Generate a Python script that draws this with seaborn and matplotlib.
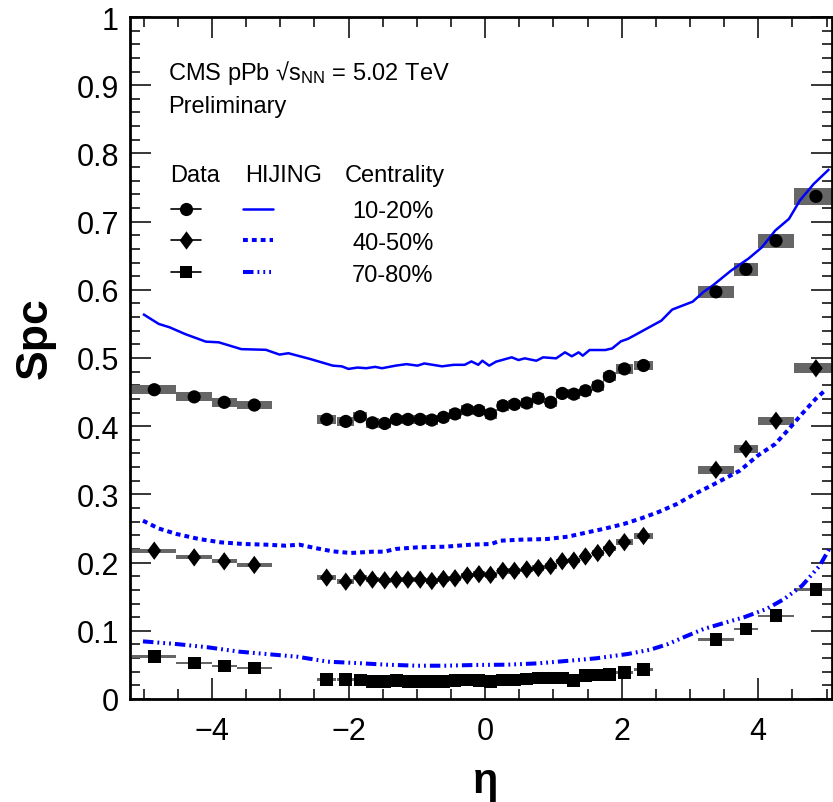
import numpy as np
import pandas as pd
import matplotlib
matplotlib.use("Agg")
import matplotlib.pyplot as plt
import seaborn as sns
from matplotlib.lines import Line2D
from matplotlib.legend_handler import HandlerTuple
from matplotlib.path import Path
from matplotlib.markers import MarkerStyle
from matplotlib.ticker import MultipleLocator, FuncFormatter

# ---------------- data ----------------
# HF (|eta| > 3) bin edges (forward); backward bins are mirrored
hf_edges = [3.12, 3.64, 4.00, 4.52, 5.17]

mid_eta = [-2.32, -2.04, -1.83, -1.65, -1.47, -1.30, -1.13, -0.95, -0.78, -0.61, -0.44, -0.26, -0.09,
           0.08, 0.26, 0.43, 0.61, 0.78, 0.96, 1.13, 1.30, 1.47, 1.65, 1.82, 2.04, 2.32]

# 10-20%
c1_bwd = [0.4535, 0.443, 0.435, 0.431]          # eta = -4.845, -4.26, -3.82, -3.38
c1_mid = [0.410, 0.407, 0.414, 0.405, 0.404, 0.410, 0.410, 0.410, 0.409, 0.413, 0.418, 0.424, 0.423,
          0.418, 0.430, 0.432, 0.434, 0.441, 0.435, 0.448, 0.447, 0.452, 0.459, 0.473, 0.484, 0.489]
c1_fwd = [0.597, 0.630, 0.672, 0.737]
c1_sys_bwd = [0.0065, 0.0065, 0.0065, 0.0065]
c1_sys_mid = 0.007
c1_sys_fwd = [0.0085, 0.010, 0.010, 0.012]

# 40-50%
c4_bwd = [0.2175, 0.2077, 0.2019, 0.1965]
c4_mid = [0.178, 0.172, 0.178, 0.175, 0.174, 0.175, 0.175, 0.175, 0.173, 0.176, 0.177, 0.181, 0.183,
          0.182, 0.188, 0.188, 0.190, 0.192, 0.195, 0.202, 0.203, 0.209, 0.214, 0.221, 0.230, 0.239]
c4_fwd = [0.336, 0.3666, 0.408, 0.485]
c4_sys_bwd = [0.003, 0.003, 0.003, 0.003]
c4_sys_mid = 0.004
c4_sys_fwd = [0.0055, 0.0055, 0.006, 0.0075]

# 70-80%
c7_bwd = [0.062, 0.0528, 0.0485, 0.0455]
c7_mid = [0.0283, 0.0283, 0.028, 0.026, 0.0254, 0.0269, 0.0254, 0.0254, 0.0254, 0.026, 0.0269, 0.0279, 0.0269,
          0.026, 0.0279, 0.0279, 0.0293, 0.0308, 0.0308, 0.0308, 0.0269, 0.0342, 0.0352, 0.0362, 0.039, 0.043]
c7_fwd = [0.087, 0.1026, 0.122, 0.161]
c7_sys_bwd = [0.0018, 0.0018, 0.0018, 0.0018]
c7_sys_mid = 0.0018
c7_sys_fwd = [0.0018, 0.0018, 0.0018, 0.002]

# HIJING curves
h1_eta = [-5.01, -4.78, -4.62, -4.39, -4.09, -3.90, -3.57, -3.21, -3.01, -2.88, -2.56, -2.23, -2.10, -2.00,
          -1.87, -1.74, -1.61, -1.51, -1.31, -1.15, -0.99, -0.89, -0.63, -0.46, -0.30, -0.20, -0.10, -0.04,
          0.06, 0.16, 0.39, 0.49, 0.58, 0.75, 0.85, 1.04, 1.17, 1.27, 1.37, 1.43, 1.53, 1.76, 1.86, 1.99,
          2.09, 2.22, 2.42, 2.58, 2.74, 3.04, 3.20, 3.33, 3.60, 3.86, 4.05, 4.25, 4.45, 4.61, 4.81, 5.04]
h1_val = [0.5645, 0.550, 0.545, 0.535, 0.524, 0.523, 0.513, 0.512, 0.505, 0.507, 0.4985, 0.4888, 0.4878, 0.484,
          0.486, 0.485, 0.487, 0.485, 0.4888, 0.491, 0.4888, 0.492, 0.4878, 0.490, 0.490, 0.495, 0.490, 0.496,
          0.4888, 0.4946, 0.501, 0.497, 0.4995, 0.496, 0.501, 0.4995, 0.5083, 0.5025, 0.5083, 0.5034, 0.5117,
          0.5117, 0.514, 0.5245, 0.528, 0.535, 0.546, 0.5547, 0.571, 0.5826, 0.597, 0.606, 0.628, 0.646,
          0.662, 0.687, 0.704, 0.731, 0.755, 0.777]

h4_eta = [-5.01, -4.78, -4.52, -4.19, -3.87, -3.54, -3.21, -2.92, -2.72, -2.49, -2.23, -1.97, -1.64, -1.48,
          -1.31, -0.99, -0.59, -0.20, 0.09, 0.22, 0.52, 0.91, 1.21, 1.50, 1.76, 2.03, 2.29, 2.55, 2.81, 3.07,
          3.33, 3.73, 3.99, 4.25, 4.45, 4.64, 4.84, 5.00]
h4_val = [0.2615, 0.250, 0.242, 0.2346, 0.2297, 0.2273, 0.2263, 0.2248, 0.2263, 0.2214, 0.2165, 0.2141,
          0.216, 0.216, 0.220, 0.2224, 0.2233, 0.2263, 0.2273, 0.2321, 0.2336, 0.2346, 0.238, 0.2444, 0.250,
          0.2566, 0.265, 0.2746, 0.286, 0.3006, 0.3138, 0.3348, 0.3567, 0.374, 0.396, 0.418, 0.440, 0.4545]

h7_eta = [-5.01, -4.52, -4.06, -3.60, -3.21, -2.75, -2.30, -1.90, -1.44, -0.99, -0.59, -0.14, 0.32, 0.78,
          1.24, 1.63, 2.09, 2.42, 2.68, 2.94, 3.20, 3.53, 3.79, 4.12, 4.38, 4.64, 4.90, 5.04]
h7_val = [0.0845, 0.0806, 0.0758, 0.0694, 0.066, 0.062, 0.0547, 0.0528, 0.0503, 0.0488, 0.0488, 0.0499,
          0.0503, 0.0523, 0.0562, 0.0597, 0.066, 0.0723, 0.0806, 0.0919, 0.1026, 0.1124, 0.1198, 0.132,
          0.1466, 0.166, 0.1955, 0.220]

centralities = ["10-20%", "40-50%", "70-80%"]
cms_label = "CMS pPb √s$_{\\mathregular{NN}}$ = 5.02 TeV"
prelim_label = "Preliminary"

# ---------------- style ----------------
sns.set_theme(style="ticks")
plt.rcParams["font.family"] = ["Liberation Sans", "DejaVu Sans"]
plt.rcParams["mathtext.fontset"] = "custom"
plt.rcParams["mathtext.rm"] = "Liberation Sans"
plt.rcParams["mathtext.it"] = "Liberation Sans:italic"
plt.rcParams["mathtext.bf"] = "Liberation Sans:bold"
plt.rcParams["text.color"] = "black"
plt.rcParams["axes.labelcolor"] = "black"
plt.rcParams["xtick.color"] = "black"
plt.rcParams["ytick.color"] = "black"
plt.rcParams["xtick.labelcolor"] = "black"
plt.rcParams["ytick.labelcolor"] = "black"

BOX = "#666666"
BLUE = "#0000ff"

fig = plt.figure(figsize=(8.33, 8.03), dpi=100)
ax = fig.add_axes([130 / 833, 1 - 700 / 803, 702 / 833, 682 / 803])

hf_edges_a = np.array(hf_edges)
fwd_eta = (hf_edges_a[:-1] + hf_edges_a[1:]) / 2
fwd_w = np.diff(hf_edges_a)
bwd_eta = -fwd_eta[::-1]
bwd_w = fwd_w[::-1]
mid = np.array(mid_eta)
mid_edges = np.concatenate([[mid[0] - (mid[1] - mid[0]) / 2], (mid[:-1] + mid[1:]) / 2,
                            [mid[-1] + (mid[-1] - mid[-2]) / 2]])
mid_w = np.diff(mid_edges)

diamond = MarkerStyle(Path([(0, 0.5), (0.37, 0), (0, -0.5), (-0.37, 0), (0, 0.5)],
                           [Path.MOVETO, Path.LINETO, Path.LINETO, Path.LINETO, Path.CLOSEPOLY]))
markers = ["o", diamond, "s"]
sizes = [90, 175, 85]

series = [
    (c1_bwd, c1_mid, c1_fwd, c1_sys_bwd, c1_sys_mid, c1_sys_fwd),
    (c4_bwd, c4_mid, c4_fwd, c4_sys_bwd, c4_sys_mid, c4_sys_fwd),
    (c7_bwd, c7_mid, c7_fwd, c7_sys_bwd, c7_sys_mid, c7_sys_fwd),
]

for (bwd, midv, fwd, sb, sm, sf), mk, sz in zip(series, markers, sizes):
    eta_all = np.concatenate([bwd_eta, mid, fwd_eta])
    val_all = np.concatenate([bwd, midv, fwd])
    sys_all = np.concatenate([sb, np.full(len(midv), sm), sf])
    w_all = np.concatenate([bwd_w, mid_w, fwd_w])
    ax.bar(eta_all, 2 * sys_all, bottom=val_all - sys_all, width=w_all, color=BOX,
           linewidth=0, zorder=2)
    df = pd.DataFrame({"eta": eta_all, "val": val_all})
    sns.scatterplot(data=df, x="eta", y="val", marker=mk, s=sz, color="black",
                    edgecolor="none", linewidth=0, ax=ax, zorder=4, legend=False)

styles = [
    (h1_eta, h1_val, "-", 1.8),
    (h4_eta, h4_val, (0, (1.2, 1.0)), 2.9),
    (h7_eta, h7_val, (0, (2.6, 1.0, 0.45, 1.0, 0.45, 1.0, 0.45, 1.0)), 2.9),
]
line_handles = []
for eta, val, ls, lw in styles:
    n0 = len(ax.lines)
    sns.lineplot(x=eta, y=val, color=BLUE, linewidth=lw, sort=False, estimator=None,
                 ax=ax, zorder=3, legend=False)
    ln = ax.lines[n0]
    ln.set_linestyle(ls)
    ln.set_solid_capstyle("butt")
    ln.set_dash_capstyle("butt")
    line_handles.append(Line2D([], [], color=BLUE, linewidth=lw, linestyle=ls,
                               dash_capstyle="butt"))

# ---------------- axes ----------------
ax.set_xlim(-5.2, 5.08)
ax.set_ylim(0, 1)
ax.xaxis.set_major_locator(MultipleLocator(2))
ax.xaxis.set_minor_locator(MultipleLocator(0.5))
ax.yaxis.set_major_locator(MultipleLocator(0.1))
ax.yaxis.set_minor_locator(MultipleLocator(0.02))
ax.xaxis.set_major_formatter(FuncFormatter(lambda v, p: f"{v:g}".replace("-", "\u2212")))
ax.yaxis.set_major_formatter(FuncFormatter(lambda v, p: f"{v:.1f}".rstrip("0").rstrip(".") if v else "0"))
ax.tick_params(which="both", direction="in", top=True, right=True, width=1.1,
               color="black", labelcolor="black")
ax.tick_params(which="major", length=15, labelsize=22, pad=8)
ax.tick_params(which="minor", length=7.5)
ax.tick_params(axis="x", which="major", pad=12)
for sp in ax.spines.values():
    sp.set_linewidth(2.0)
    sp.set_color("black")
    sp.set_visible(True)
ax.set_facecolor("white")

ax.set_ylabel("Spc", fontsize=32, fontweight="bold", ha="center", va="center", color="black")
ax.yaxis.set_label_coords(-0.135, 0.53)
ax.set_xlabel("η", fontsize=30, fontweight="bold", ha="center", va="center", color="black")
ax.xaxis.set_label_coords(0.506, -0.12)

# ---------------- annotations ----------------
ax.text(0.054, 0.909, cms_label, transform=ax.transAxes, fontsize=17, va="baseline", ha="left")
ax.text(0.054, 0.86, prelim_label, transform=ax.transAxes, fontsize=17, va="baseline", ha="left")
ax.text(0.057, 0.7595, "Data", transform=ax.transAxes, fontsize=17, va="baseline", ha="left")
ax.text(0.164, 0.7595, "HIJING", transform=ax.transAxes, fontsize=17, va="baseline", ha="left")
ax.text(0.306, 0.7595, "Centrality", transform=ax.transAxes, fontsize=17, va="baseline", ha="left")

marker_handles = [Line2D([], [], color="black", linewidth=1.2, marker=m,
                         markersize=np.sqrt(s), markeredgewidth=0) for m, s in zip(markers, sizes)]
handles = [(mh, lh) for mh, lh in zip(marker_handles, line_handles)]
leg = ax.legend(handles, centralities, handler_map={tuple: HandlerTuple(ndivide=None, pad=1.82)},
                loc="upper left", bbox_to_anchor=(0.0584, 0.732), frameon=False, fontsize=17,
                handlelength=4.32, handletextpad=3.35, labelspacing=0.42, borderpad=0,
                borderaxespad=0, numpoints=1)
for t in leg.get_texts():
    t.set_color("black")

fig.savefig("out.png", dpi=100)
